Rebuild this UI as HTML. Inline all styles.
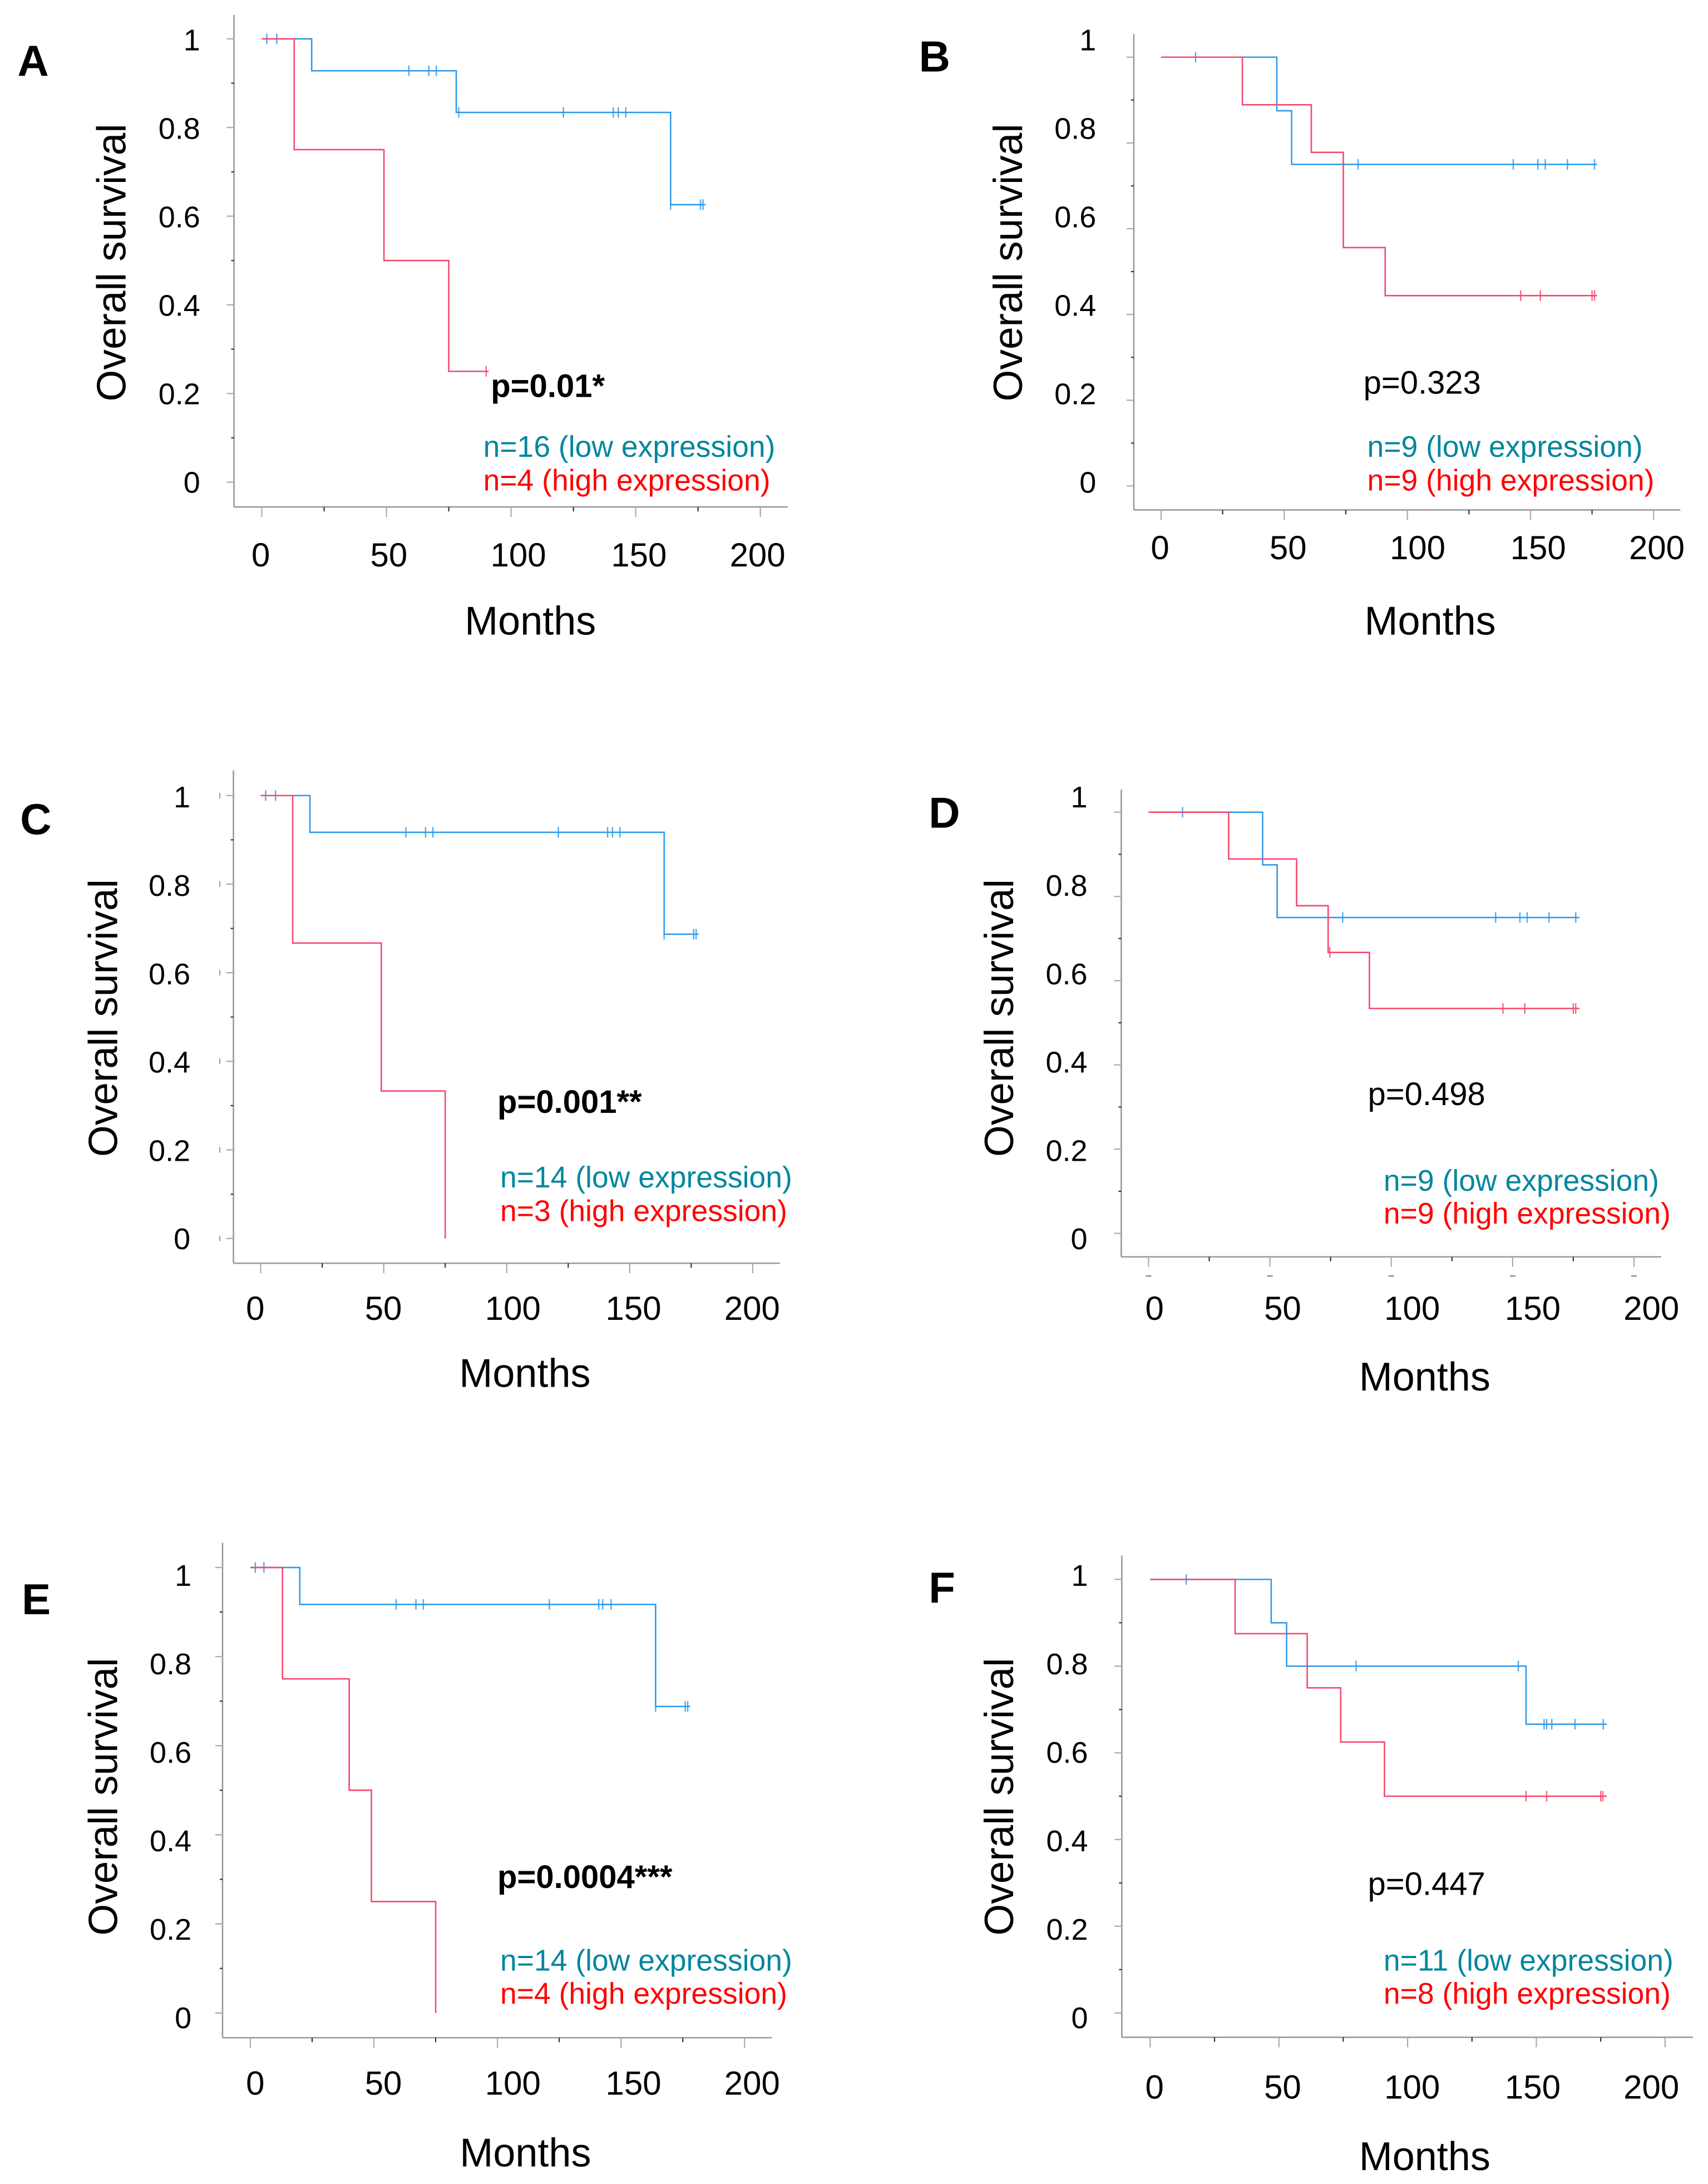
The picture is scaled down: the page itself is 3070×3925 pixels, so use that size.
<!DOCTYPE html>
<html lang="en">
<head>
<meta charset="utf-8">
<title>Overall survival Kaplan-Meier panels</title>
<style>
html,body{margin:0;padding:0;background:#fff;}
svg{display:block;}
text{font-family:"Liberation Sans",Arial,sans-serif;fill:#000;}
</style>
</head>
<body>
<svg id="figure" xmlns="http://www.w3.org/2000/svg" width="3070" height="3925" viewBox="0 0 3070 3925"></svg>
<script>
// Shared axis values
const xTickValues = [0, 25, 50, 75, 100, 125, 150, 175, 200];
const xLabelValues = [0, 50, 100, 150, 200];
const xLabelTexts = ["0", "50", "100", "150", "200"];
const yTickValues = [0, 0.1, 0.2, 0.3, 0.4, 0.5, 0.6, 0.7, 0.8, 0.9, 1];
const yLabelValues = [1, 0.8, 0.6, 0.4, 0.2, 0];
const yLabelTexts = ["1", "0.8", "0.6", "0.4", "0.2", "0"];

// Panel A
const aLowTimes = [0, 20, 78, 164, 178];
const aLowSurvival = [1, 0.928, 0.834, 0.626, 0.626];
const aLowCensored = [2, 6, 59, 67, 70, 79, 121, 141, 143, 146, 164, 176, 177];
const aHighTimes = [0, 13, 49, 75, 91];
const aHighSurvival = [1, 0.75, 0.5, 0.25, 0.25];
const aHighCensored = [90];

// Panel B
const bLowTimes = [0, 47, 53, 177];
const bLowSurvival = [1, 0.875, 0.75, 0.75];
const bLowCensored = [14, 80, 143, 153, 156, 165, 176];
const bHighTimes = [0, 33, 61, 74, 91, 177];
const bHighSurvival = [1, 0.889, 0.778, 0.556, 0.444, 0.444];
const bHighCensored = [146, 154, 175, 176];

// Panel C
const cLowTimes = [0, 20, 164, 178];
const cLowSurvival = [1, 0.917, 0.687, 0.687];
const cLowCensored = [2, 6, 59, 67, 70, 121, 141, 143, 146, 164, 176, 177];
const cHighTimes = [0, 13, 49, 75];
const cHighSurvival = [1, 0.667, 0.333, 0];
const cHighCensored = [];

// Panel D
const dLowTimes = [0, 47, 53, 177.5];
const dLowSurvival = [1, 0.875, 0.75, 0.75];
const dLowCensored = [14, 80, 143, 153, 156, 165, 176];
const dHighTimes = [0, 33, 61, 74, 91, 177.5];
const dHighSurvival = [1, 0.889, 0.778, 0.667, 0.534, 0.534];
const dHighCensored = [74.7, 146, 155, 175, 176];

// Panel E
const eLowTimes = [0, 20, 164, 178];
const eLowSurvival = [1, 0.917, 0.688, 0.688];
const eLowCensored = [2, 5.5, 59, 67, 70, 121, 141, 142.6, 146, 164, 176, 177];
const eHighTimes = [0, 13, 40, 49, 75];
const eHighSurvival = [1, 0.75, 0.5, 0.25, 0];
const eHighCensored = [];

// Panel F
const fLowTimes = [0, 47, 53, 146, 177.3];
const fLowSurvival = [1, 0.9, 0.8, 0.666, 0.666];
const fLowCensored = [14, 80, 143, 153, 154, 156, 165, 176];
const fHighTimes = [0, 33, 61, 74, 91, 177.3];
const fHighSurvival = [1, 0.875, 0.75, 0.625, 0.5, 0.5];
const fHighCensored = [146, 154, 175, 175.8];

// Panel layouts: coordinates measured per half-page crop
const SX = 1.02, SY = 1.304;
const panels = [
 {id:"a", ox:0, oy:0, letter:"A", low:[aLowTimes,aLowSurvival,aLowCensored], high:[aHighTimes,aHighSurvival,aHighCensored],
  axisX:429, axisTop:35, axisY:1188, axisRight:1444, x0:480, x200:1394, y1:91, y0:1130,
  letterX:35, letterY:180, titleX:235, titleBottom:938, yLabRight:367, yLab1:118, yLab0:1157, xLab0:478, xLabY:1330,
  monthsX:857, monthsY:1487, pText:"p=0.01*", pBold:true, pX:903, pY:933,
  lowText:"n=16 (low expression)", highText:"n=4 (high expression)", legX:889, legY1:1073, legY2:1152},
 {id:"b", ox:1535, oy:0, letter:"B", low:[bLowTimes,bLowSurvival,bLowCensored], high:[bHighTimes,bHighSurvival,bHighCensored],
  axisX:513, axisTop:80, axisY:1195, axisRight:1515, x0:563, x200:1466, y1:134, y0:1139,
  letterX:122, letterY:170, titleX:313, titleBottom:938, yLabRight:444, yLab1:118, yLab0:1157, xLab0:561, xLabY:1313,
  monthsX:941, monthsY:1487, pText:"p=0.323", pBold:false, pX:937, pY:925,
  lowText:"n=9 (low expression)", highText:"n=9 (high expression)", legX:944, legY1:1073, legY2:1152},
 {id:"c", ox:0, oy:1350, letter:"C", low:[cLowTimes,cLowSurvival,cLowCensored], high:[cHighTimes,cHighSurvival,cHighCensored],
  axisX:428, axisTop:45, axisY:1200, axisRight:1430, x0:478, x200:1380, y1:104, y0:1142, strayY:403,
  letterX:40, letterY:197, titleX:220, titleBottom:948, yLabRight:349, yLab1:132, yLab0:1170, xLab0:468, xLabY:1335,
  monthsX:847, monthsY:1490, pText:"p=0.001**", pBold:true, pX:915, pY:850,
  lowText:"n=14 (low expression)", highText:"n=3 (high expression)", legX:920, legY1:1025, legY2:1104},
 {id:"d", ox:1535, oy:1350, letter:"D", low:[dLowTimes,dLowSurvival,dLowCensored], high:[dHighTimes,dHighSurvival,dHighCensored],
  axisX:490, axisTop:90, axisY:1185, axisRight:1480, x0:540, x200:1430, y1:143, y0:1130, strayX:1230,
  letterX:140, letterY:182, titleX:297, titleBottom:948, yLabRight:428, yLab1:132, yLab0:1170, xLab0:551, xLabY:1335,
  monthsX:931, monthsY:1498, pText:"p=0.498", pBold:false, pX:945, pY:832,
  lowText:"n=9 (low expression)", highText:"n=9 (high expression)", legX:974, legY1:1033, legY2:1110},
 {id:"e", ox:0, oy:2725, letter:"E", low:[eLowTimes,eLowSurvival,eLowCensored], high:[eHighTimes,eHighSurvival,eHighCensored],
  axisX:408, axisTop:62, axisY:1222, axisRight:1415, x0:459, x200:1365, y1:120, y0:1164,
  letterX:43, letterY:232, titleX:220, titleBottom:980, yLabRight:351, yLab1:163, yLab0:1202, xLab0:468, xLabY:1358,
  monthsX:848, monthsY:1524, pText:"p=0.0004***", pBold:true, pX:915, pY:874,
  lowText:"n=14 (low expression)", highText:"n=4 (high expression)", legX:920, legY1:1067, legY2:1145},
 {id:"f", ox:1535, oy:2725, letter:"F", low:[fLowTimes,fLowSurvival,fLowCensored], high:[fHighTimes,fHighSurvival,fHighCensored],
  axisX:491, axisTop:92, axisY:1221, axisRight:1538, x0:543, x200:1487, y1:148, y0:1164,
  letterX:140, letterY:205, titleX:297, titleBottom:980, yLabRight:429, yLab1:163, yLab0:1202, xLab0:551, xLabY:1367,
  monthsX:931, monthsY:1532, pText:"p=0.447", pBold:false, pX:945, pY:890,
  lowText:"n=11 (low expression)", highText:"n=8 (high expression)", legX:974, legY1:1067, legY2:1145}
];

const NS = "http://www.w3.org/2000/svg";
const figure = document.getElementById("figure");

function make(parent, tag, attrs, content) {
  const el = document.createElementNS(NS, tag);
  for (const k in attrs) el.setAttribute(k, attrs[k]);
  if (content !== undefined) el.textContent = content;
  parent.appendChild(el);
  return el;
}

function drawCurve(group, p, series, color, sx, sy, label) {
  const times = series[0], surv = series[1], censored = series[2];
  let d = "M" + sx(times[0]) + " " + sy(surv[0]);
  for (let i = 1; i < times.length; i++) {
    d += " L" + sx(times[i]) + " " + sy(surv[i - 1]);
    d += " L" + sx(times[i]) + " " + sy(surv[i]);
  }
  const line = make(group, "path", {d: d, fill: "none", stroke: color, "stroke-width": 2.6, "stroke-linejoin": "miter"});
  
  
  censored.forEach(function (t) {
    let s = surv[0];
    for (let i = 0; i < times.length; i++) if (times[i] <= t) s = surv[i];
    const mark = make(group, "line", {x1: sx(t), x2: sx(t), y1: sy(s) - 9.5, y2: sy(s) + 9.5, stroke: color, "stroke-width": 2.4, "stroke-opacity": 0.85});
    
    
  });
}

panels.forEach(function (p) {
  const fx = function (v) { return v / SX + p.ox; };
  const fy = function (v) { return v / SY + p.oy; };
  const sx = function (t) { return fx(p.x0) + (fx(p.x200) - fx(p.x0)) * t / 200; };
  const sy = function (s) { return fy(p.y0) + (fy(p.y1) - fy(p.y0)) * s; };
  const labelStep = 893 / 200;
  const labelNudge = [0, 7, 16.5, 10, 0];

  const group = make(figure, "g", {});
  
  

  const letter = make(group, "text", {x: fx(p.letterX) - 3, y: fy(p.letterY) - 2, "font-size": 78, "font-weight": "bold"}, p.letter);
  
  

  const yAxis = make(group, "line", {x1: fx(p.axisX), x2: fx(p.axisX), y1: fy(p.axisTop), y2: fy(p.axisY), stroke: "#999", "stroke-width": 2.6});
  
  
  const xAxis = make(group, "line", {x1: fx(p.axisX), x2: fx(p.axisRight), y1: fy(p.axisY), y2: fy(p.axisY), stroke: "#999", "stroke-width": 2.6});
  
  

  yTickValues.forEach(function (v, i) {
    const major = i % 2 === 0;
    const tick = make(group, "line", {x1: fx(p.axisX) - (major ? 13 : 5), x2: fx(p.axisX), y1: sy(v), y2: sy(v), stroke: major ? "#aaa" : "#333", "stroke-width": 2.2});
    
    
    if (p.strayY && major) {
      const stray = make(group, "line", {x1: fx(p.strayY), x2: fx(p.strayY), y1: sy(v) - 5, y2: sy(v) + 5, stroke: "#999", "stroke-width": 2});
      
      
    }
  });

  xTickValues.forEach(function (v, i) {
    const major = i % 2 === 0;
    const tick = make(group, "line", {x1: sx(v), x2: sx(v), y1: fy(p.axisY), y2: fy(p.axisY) + (major ? 18 : 8), stroke: major ? "#aaa" : "#333", "stroke-width": 2.2});
    
    
    if (p.strayX && major) {
      const stray = make(group, "line", {x1: sx(v) - 5, x2: sx(v) + 5, y1: fy(p.strayX), y2: fy(p.strayX), stroke: "#777", "stroke-width": 2});
      
      
    }
  });

  yLabelValues.forEach(function (v, i) {
    const base = fy(p.yLab0) - 2 + (fy(p.yLab1) - fy(p.yLab0) + 2) * v;
    const t = make(group, "text", {x: fx(p.yLabRight), y: base, "font-size": 54, "text-anchor": "end"}, yLabelTexts[i]);
    
    
  });

  xLabelValues.forEach(function (v, i) {
    const t = make(group, "text", {x: fx(p.xLab0) + labelStep * v + labelNudge[i], y: fy(p.xLabY) - 2, "font-size": 60, "text-anchor": "middle"}, xLabelTexts[i]);
    
    
  });

  const yTitle = make(group, "text", {transform: "translate(" + (fx(p.titleX) - 5) + " " + (fy(p.titleBottom) + 2) + ") rotate(-90)", "font-size": 73}, "Overall survival");
  
  

  const xTitle = make(group, "text", {x: fx(p.monthsX) - 5, y: fy(p.monthsY), "font-size": 72}, "Months");
  
  

  drawCurve(group, p, p.low, "#2f9bec", sx, sy, "low-expression");
  drawCurve(group, p, p.high, "#f7486f", sx, sy, "high-expression");

  const pVal = make(group, "text", {x: fx(p.pX) - 3, y: fy(p.pY) - 2, "font-size": 58, "font-weight": p.pBold ? "bold" : "normal"}, p.pText);
  
  

  const legendLow = make(group, "text", {x: fx(p.legX) - 3, y: fy(p.legY1) - 2, "font-size": 53.5, style: "fill:#00869e"}, p.lowText);
  
  
  const legendHigh = make(group, "text", {x: fx(p.legX) - 3, y: fy(p.legY2) - 2, "font-size": 53.5, style: "fill:#ff0000"}, p.highText);
  
  
});
</script>
</body>
</html>
